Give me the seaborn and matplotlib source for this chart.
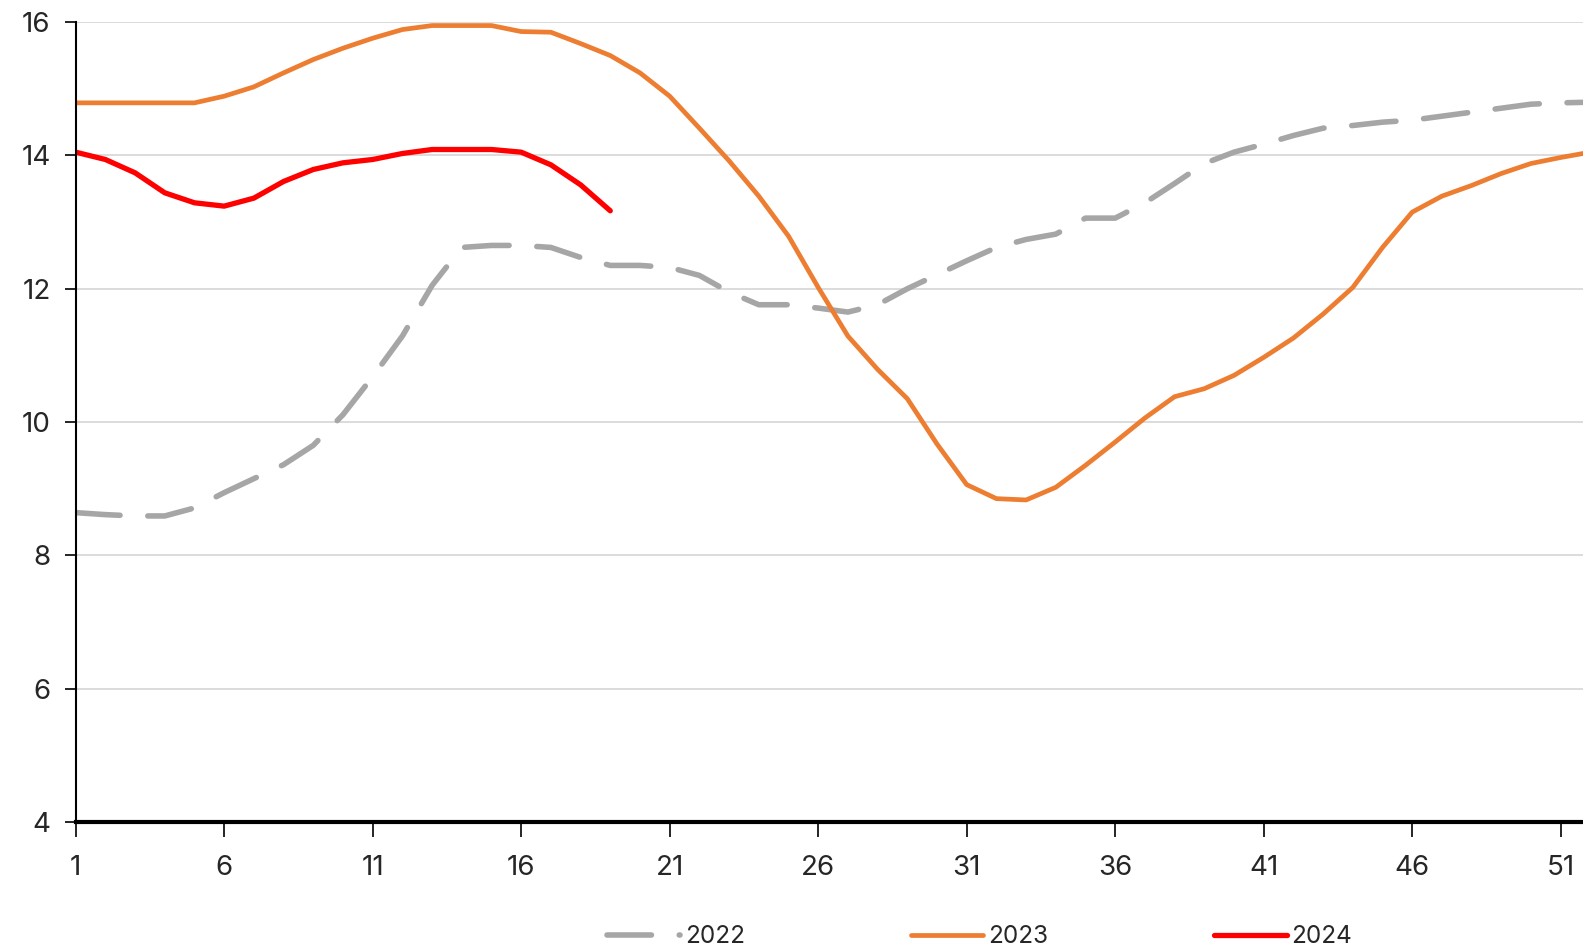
import matplotlib
matplotlib.use("Agg")
import matplotlib.pyplot as plt
import numpy as np
import pandas as pd
import seaborn as sns

# weekly values
weeks = list(range(1, 53))
vals_2022 = [8.64, 8.61, 8.59, 8.59, 8.71, 8.94, 9.15, 9.36, 9.65, 10.11,
             10.68, 11.29, 12.05, 12.62, 12.65, 12.65, 12.62, 12.47, 12.35, 12.35,
             12.32, 12.20, 11.95, 11.76, 11.76, 11.71, 11.65, 11.76, 12.00, 12.21,
             12.42, 12.62, 12.74, 12.82, 13.06, 13.06, 13.29, 13.58, 13.88, 14.05,
             14.17, 14.30, 14.41, 14.45, 14.50, 14.53, 14.59, 14.65, 14.71, 14.77,
             14.79, 14.80]
vals_2023 = [14.79, 14.79, 14.79, 14.79, 14.79, 14.89, 15.03, 15.24, 15.44, 15.61,
             15.76, 15.89, 15.95, 15.95, 15.95, 15.86, 15.85, 15.68, 15.50, 15.24,
             14.89, 14.41, 13.92, 13.39, 12.79, 12.02, 11.29, 10.79, 10.35, 9.67,
             9.06, 8.85, 8.83, 9.02, 9.35, 9.70, 10.06, 10.38, 10.50, 10.70,
             10.97, 11.26, 11.62, 12.02, 12.62, 13.15, 13.39, 13.55, 13.73, 13.88,
             13.97, 14.05]
vals_2024 = [14.05, 13.94, 13.74, 13.44, 13.29, 13.24, 13.36, 13.61, 13.79, 13.89,
             13.94, 14.03, 14.09, 14.09, 14.09, 14.05, 13.86, 13.56, 13.17]

x_ticks = [1, 6, 11, 16, 21, 26, 31, 36, 41, 46, 51]
y_ticks = [4, 6, 8, 10, 12, 14, 16]

df22 = pd.DataFrame({"week": weeks, "value": vals_2022})
df23 = pd.DataFrame({"week": weeks, "value": vals_2023})
df24 = pd.DataFrame({"week": weeks[:len(vals_2024)], "value": vals_2024})

sns.set_theme(style="white")
plt.rcParams["font.family"] = ["Inter", "DejaVu Sans"]

fig = plt.figure(figsize=(15.83, 9.46), dpi=100)
ax = fig.add_axes([0.0478, 0.1313, 0.9522, 0.8452])

sns.lineplot(data=df22, x="week", y="value", ax=ax, color="#a6a6a6",
             linewidth=4.0, label="2022")
ax.lines[-1].set_dashes((8.0, 5.0))
ax.lines[-1].set_dash_capstyle("round")
sns.lineplot(data=df23, x="week", y="value", ax=ax, color="#ed7d31",
             linewidth=3.4, label="2023")
sns.lineplot(data=df24, x="week", y="value", ax=ax, color="#ff0000",
             linewidth=3.8, label="2024")

ax.set_xlim(1, 51.75)
ax.set_ylim(4, 16)
ax.set_xticks(x_ticks)
ax.set_yticks(y_ticks)
ax.set_xlabel("")
ax.set_ylabel("")
ax.yaxis.grid(True, color="#d9d9d9", linewidth=1.3)
ax.set_axisbelow(True)

for s in ["top", "right"]:
    ax.spines[s].set_visible(False)
ax.spines["left"].set_color("black")
ax.spines["left"].set_linewidth(1.5)
ax.spines["bottom"].set_color("black")
ax.spines["bottom"].set_linewidth(3)

ax.tick_params(axis="x", direction="out", length=11, width=1.2, color="black",
               bottom=True, labelsize=20, pad=13)
ax.tick_params(axis="y", direction="out", length=8, width=1.2, color="black",
               left=True, labelsize=20, pad=10)

ax.get_legend().remove()
handles, labels = ax.get_legend_handles_labels()
fig.legend(handles, labels, loc="center", bbox_to_anchor=(0.619, 0.01),
           ncol=3, frameon=False, fontsize=17.5, handlelength=3.0,
           handletextpad=0.2, columnspacing=6.8)

fig.savefig("out.png", dpi=100)
